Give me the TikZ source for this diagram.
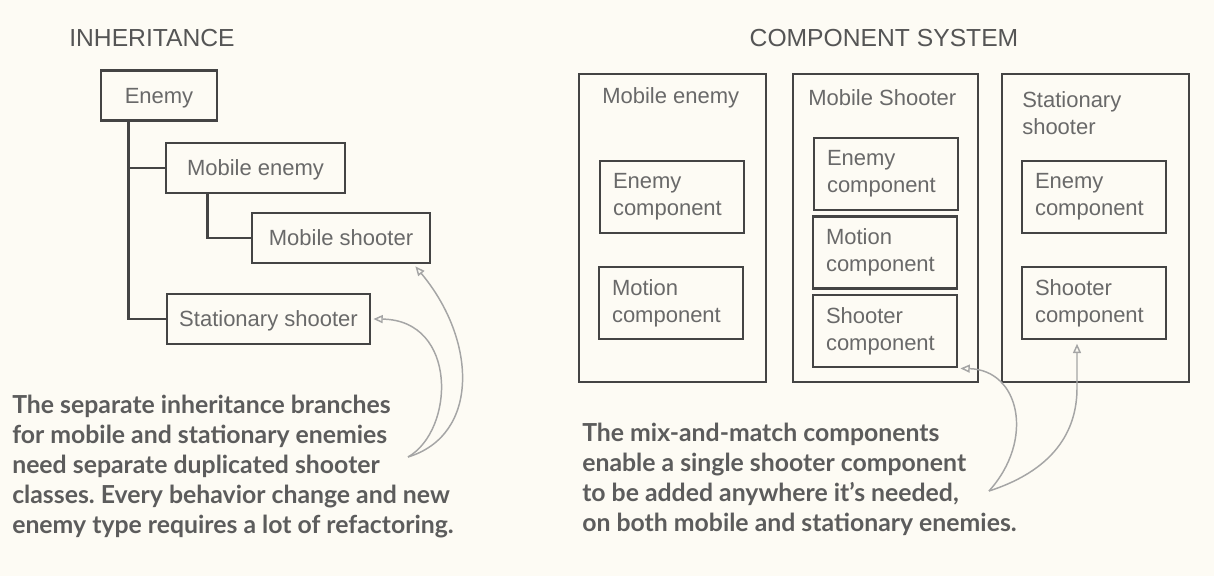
\documentclass[tikz,border=0pt]{standalone}
\usepackage{fontspec}
\setmainfont{Liberation Sans}
\newfontfamily\notefont{Lato}
\usetikzlibrary{arrows.meta}
\frenchspacing
\definecolor{bg}{RGB}{253,251,244}
\definecolor{edge}{RGB}{68,68,68}
\definecolor{txt}{RGB}{105,105,105}
\definecolor{headc}{RGB}{85,85,85}
\definecolor{note}{RGB}{92,92,92}
\definecolor{arr}{RGB}{165,165,165}
\tikzset{
  boxtxt/.style={font=\fontsize{16.5}{20.25}\selectfont, text=txt},
  cls/.style={draw=edge, line width=2.1pt, boxtxt, inner sep=0pt, text height=11.8pt, text depth=0pt, minimum height=37.5pt},
  holder/.style={draw=edge, line width=2.1pt, inner sep=0pt, minimum height=231pt},
  comp/.style={draw=edge, line width=2.1pt, boxtxt, align=left, text width=88.5pt, inner xsep=9.75pt, inner ysep=0pt, minimum height=54pt},
  ctitle/.style={boxtxt, align=left, anchor=west, inner sep=0pt},
  heading/.style={font=\fontsize{18.5}{22}\selectfont, text=headc, inner sep=0pt},
  notetxt/.style={font=\notefont\bfseries\fontsize{18.6}{22.5}\selectfont, text=note, align=left, anchor=north west, inner sep=0pt},
  link/.style={draw=edge, line width=2pt},
  pointer/.style={draw=arr, line width=1.1pt, -{Triangle[open, length=7pt, width=6pt]}}
}
\begin{document}
\begin{tikzpicture}[x=0.75pt, y=-0.75pt]
\path[fill=bg] (0,0) rectangle (1214,576);

% ---------- INHERITANCE ----------
\node[heading] (th) at (152,38) {INHERITANCE};
\node[cls, minimum width=87pt] (enemy) at (159,95.5) {Enemy};
\node[cls, minimum width=134.25pt] (mobenemy) at (255.5,168) {Mobile enemy};
\node[cls, minimum width=133.5pt] (mobshoot) at (341,238) {Mobile shooter};
\node[cls, minimum width=152.25pt] (statshoot) at (268.5,319) {Stationary shooter};

\coordinate (trunk) at ([xshift=21.75pt]enemy.south west);
\coordinate (branch) at ([xshift=32.25pt]mobenemy.south west);
\draw[link] (trunk) |- (mobenemy.west);
\draw[link] (trunk) |- (statshoot.west);
\draw[link] (branch) |- (mobshoot.west);

\node[notetxt] (lnote) at (12,395) {The separate inheritance branches\\for mobile and stationary enemies\\need separate duplicated shooter\\classes. Every behavior change and new\\enemy type requires a lot of refactoring.};
\coordinate (lmeet) at (408,457);
\draw[pointer] (lmeet) .. controls (455,430) and (458,320) .. ([xshift=1.5pt]statshoot.east);
\draw[pointer] (lmeet) .. controls (480,435) and (477,340) .. ([xshift=-12pt,yshift=-1.5pt]mobshoot.south east);

% ---------- COMPONENT SYSTEM ----------
\node[heading] (tc) at (884,38) {COMPONENT SYSTEM};

\node[holder, minimum width=140.25pt] (c1) at (672.5,228) {};
\node[holder, minimum width=138.75pt] (c2) at (885.5,228) {};
\node[holder, minimum width=140.25pt] (c3) at (1095.5,228) {};

\node[ctitle] (c1t) at (602,98) {Mobile enemy};
\node[ctitle] (c2t) at (808,98) {Mobile Shooter};
\node[ctitle] (c3t) at (1022,113.5) {Stationary\\shooter};

\node[comp] (c1e) at (672,197) {Enemy\\component};
\node[comp] (c1m) at (671,303) {Motion\\component};

\node[comp] (c2e) at (886,174) {Enemy\\component};
\node[comp] (c2m) at (885,252.5) {Motion\\component};
\node[comp] (c2s) at (885,331) {Shooter\\component};

\node[comp] (c3e) at (1094,197) {Enemy\\component};
\node[comp] (c3s) at (1094,303) {Shooter\\component};

\node[notetxt] (rnote) at (582,423) {The mix-and-match components\\enable a single shooter component\\to be added anywhere it’s needed,\\on both mobile and stationary enemies.};
\coordinate (rmeet) at (989,491);
\draw[pointer] (rmeet) .. controls (1035,440) and (1020,370) .. ([xshift=1.5pt]c2s.south east);
\draw[pointer] (rmeet) .. controls (1060,468) and (1077,425) .. ([xshift=-12.75pt]c3s.south |- 0,388) -- ([xshift=-12.75pt,yshift=-2.5pt]c3s.south);
\end{tikzpicture}
\end{document}
